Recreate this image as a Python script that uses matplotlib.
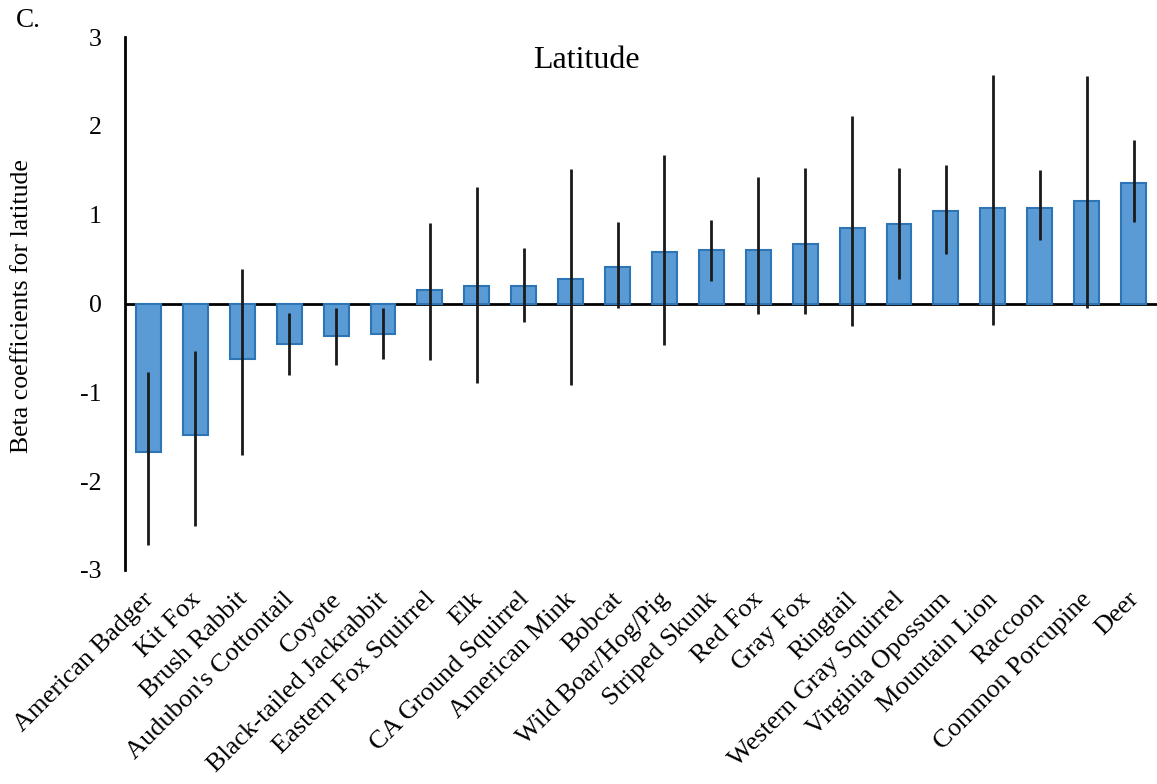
import numpy as np
import matplotlib
matplotlib.use("Agg")
import matplotlib.pyplot as plt
import matplotlib.transforms as mtransforms

species = [
    "American Badger", "Kit Fox", "Brush Rabbit", "Audubon's Cottontail",
    "Coyote", "Black-tailed Jackrabbit", "Eastern Fox Squirrel", "Elk",
    "CA Ground Squirrel", "American Mink", "Bobcat", "Wild Boar/Hog/Pig",
    "Striped Skunk", "Red Fox", "Gray Fox", "Ringtail", "Western Gray Squirrel",
    "Virginia Opossum", "Mountain Lion", "Raccoon", "Common Porcupine", "Deer",
]
beta = [-1.67, -1.48, -0.62, -0.46, -0.37, -0.34, 0.15, 0.20, 0.20, 0.28, 0.41,
        0.575, 0.60, 0.60, 0.67, 0.85, 0.89, 1.04, 1.07, 1.08, 1.15, 1.36]
ci_low = [-2.72, -2.50, -1.71, -0.80, -0.69, -0.63, -0.64, -0.89, -0.21, -0.92, -0.05,
          -0.47, 0.25, -0.12, -0.12, -0.25, 0.28, 0.56, -0.24, 0.72, -0.05, 0.92]
ci_high = [-0.77, -0.54, 0.39, -0.11, -0.05, -0.05, 0.91, 1.31, 0.62, 1.51, 0.92,
           1.67, 0.94, 1.42, 1.53, 2.11, 1.53, 1.56, 2.57, 1.50, 2.56, 1.84]
y_ticks = [-3, -2, -1, 0, 1, 2, 3]

plt.rcParams["font.family"] = ["Liberation Serif", "DejaVu Serif"]

W, H = 1157, 784
fig = plt.figure(figsize=(W / 100, H / 100), dpi=100)
ax = fig.add_axes([125 / W, (H - 570) / H, 1 - 125 / W, (570 - 37) / H])

x = np.arange(len(species))
b = np.array(beta)
lo = np.array(ci_low)
hi = np.array(ci_high)

ax.axhline(0, color="black", lw=2.0, zorder=1)
ax.bar(x, b, width=0.53, color="#5B9BD5", edgecolor="#2E75B6", linewidth=1.5, zorder=2)
ax.errorbar(x, b, yerr=[b - lo, hi - b], fmt="none", ecolor="#1a1a1a",
            elinewidth=2.0, capsize=0, zorder=3)

ax.set_xlim(-0.5, len(species) - 0.5)
ax.set_ylim(-3, 3)
ax.set_yticks(y_ticks)
ax.set_yticklabels([str(t) for t in y_ticks])
ax.tick_params(axis="y", length=0, pad=17, labelsize=18.5)
ax.tick_params(axis="x", length=0, pad=13, labelsize=19)

ax.set_xticks(x)
ax.set_xticklabels(species, rotation=45, ha="right", rotation_mode="anchor")
shift = mtransforms.ScaledTranslation(-6 / 100, 0, fig.dpi_scale_trans)
for lab in ax.get_xticklabels():
    lab.set_transform(lab.get_transform() + shift)

for side in ("top", "right", "bottom"):
    ax.spines[side].set_visible(False)
ax.spines["left"].set_linewidth(2.0)
ax.spines["left"].set_color("black")

fig.text(586 / W, 1 - 60 / H, "Latitude", ha="center", va="center", fontsize=23)
fig.text(16 / W, 1 - 8 / H, "C.", ha="left", va="top", fontsize=19.5)
fig.text(22 / W, 1 - 306 / H, "Beta coefficients for latitude", rotation=90,
         ha="center", va="center", fontsize=18.5)

fig.savefig("out.png", dpi=100)
